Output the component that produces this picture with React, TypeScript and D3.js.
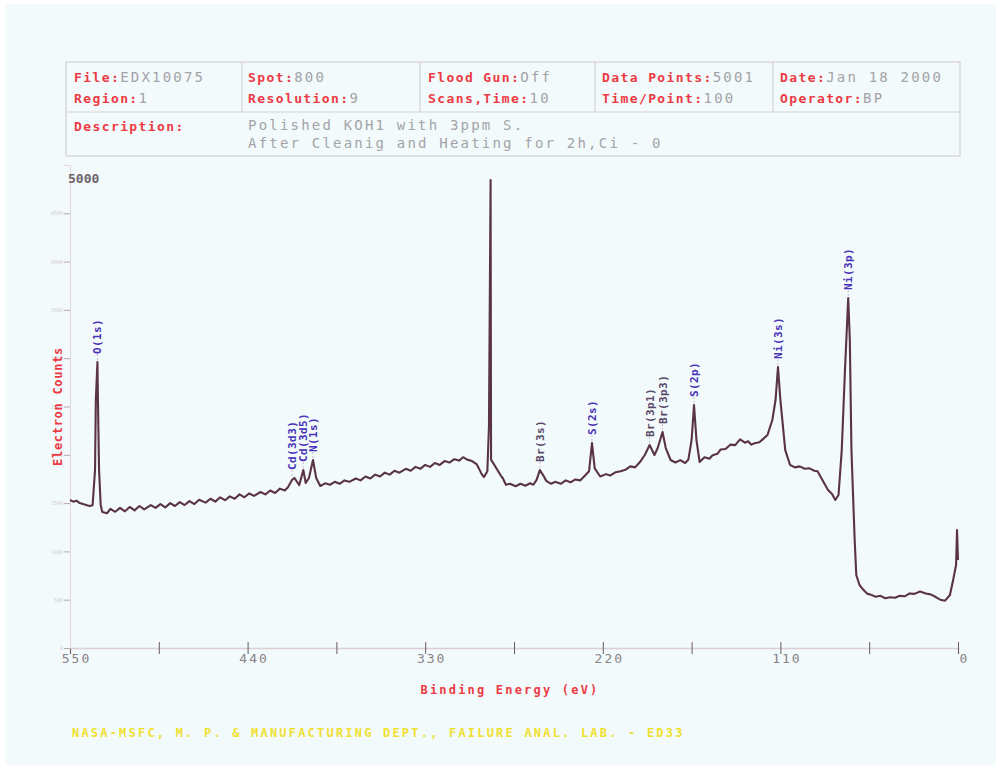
import React, { useEffect, useRef } from 'react';
import * as d3 from 'd3';

// spectrum readings: [binding energy (eV), electron counts]
const spectrum: [number, number][] = [
  [550, 1532], [548, 1515], [546, 1525], [544, 1500], [541, 1485], [538, 1470], [536, 1478],
  [534.5, 1842], [534, 2567], [533, 2960], [532.7, 2567], [532, 1842], [531, 1480],
  [530, 1408], [527, 1395], [525, 1440], [522, 1410], [519, 1450], [516, 1415],
  [513, 1460], [510, 1425], [507, 1470], [504, 1435], [500, 1480], [497, 1450],
  [494, 1490], [491, 1455], [488, 1500], [485, 1470], [482, 1510], [479, 1480],
  [476, 1520], [473, 1490], [470, 1535], [466, 1505], [463, 1545], [460, 1515],
  [457, 1560], [454, 1530], [451, 1570], [448, 1545], [445, 1590], [442, 1560],
  [439, 1600], [436, 1575], [432, 1615], [429, 1590], [426, 1630], [423, 1605],
  [420, 1650], [417, 1630], [415, 1665], [412.5, 1739], [411, 1760], [408, 1687],
  [407.5, 1718], [405.5, 1842], [404, 1708], [402, 1760], [399.5, 1946], [397.5, 1760],
  [395, 1677], [392, 1705], [389, 1690], [386, 1720], [383, 1700], [380, 1735],
  [377, 1720], [373, 1755], [370, 1735], [367, 1775], [364, 1755], [361, 1795],
  [358, 1775], [355, 1815], [352, 1795], [349, 1835], [346, 1815], [342, 1855],
  [339, 1835], [336, 1875], [333, 1855], [330, 1895], [327, 1875], [324, 1915],
  [321, 1895], [318, 1935], [315, 1920], [312, 1955], [309, 1940], [306.5, 1975],
  [304, 1950], [301, 1935], [298, 1900], [295, 1800], [293.6, 1770], [291.5, 1830],
  [290.5, 2300], [289.5, 4844], [289.2, 1950], [283, 1780], [282, 1760], [280, 1690], [277.5, 1700],
  [274, 1675], [271, 1700], [268, 1680], [265, 1705], [263, 1690], [261, 1740],
  [259, 1842], [257, 1790], [255, 1730], [252, 1700], [249.6, 1720], [246, 1700],
  [243, 1735], [240, 1715], [237, 1745], [234, 1735], [231, 1785], [228.5, 1830],
  [226.7, 2122], [225, 1860], [221.6, 1775], [218, 1800], [215.5, 1785], [212, 1820],
  [209, 1830], [206, 1845], [203, 1880], [200, 1870], [197, 1925], [194, 1998],
  [191, 2101], [188, 1998], [186, 2070], [183, 2236], [181, 2070], [178, 1946],
  [175, 1920], [172, 1945], [169, 1915], [167, 1950], [165, 2153], [163.5, 2515],
  [162, 2153], [160, 1925], [157, 1975], [154, 1960], [152, 1995], [149, 2010],
  [147, 2055], [144, 2060], [141, 2105], [138, 2100], [135, 2160], [132, 2125],
  [130, 2140], [128, 2105], [126, 2120], [123, 2130], [121, 2160], [118, 2205],
  [115, 2360], [113, 2567], [111.5, 2908], [110, 2567], [107, 2049], [104, 1894],
  [101, 1870], [98, 1880], [95, 1855], [92, 1860], [89, 1835], [87, 1830],
  [84, 1739], [80.5, 1635], [78, 1594], [76, 1532], [74, 1584], [72, 2049],
  [70, 2877], [68, 3623], [67, 3188], [66, 2049], [64, 1118], [63, 756],
  [61, 652], [59, 610], [57.6, 585], [56, 560], [54.5, 555], [51, 530],
  [48, 540], [45, 515], [42, 525], [39, 520], [36, 540], [33, 535],
  [30, 565], [27, 560], [23.5, 585], [20, 565], [17, 555], [14, 530],
  [11, 500], [8, 490], [5, 549], [3, 704], [1.2, 859], [0.6, 1221], [0, 911],
];

// peak labels: name, energy, counts at the peak top
const peakNames = ['O(1s)', 'Cd(3d3)', 'Cd(3d5)', 'N(1s)', 'Br(3s)', 'S(2s)', 'Br(3p1)', 'Br(3p3)', 'S(2p)', 'Ni(3s)', 'Ni(3p)'];
const peakEnergies = [533, 412.5, 405.5, 399.5, 259, 226.7, 191, 183, 163.5, 111.5, 68];
const peakCounts = [2960, 1760, 1842, 1946, 1842, 2122, 2101, 2236, 2515, 2908, 3623];
const peakColors = ['#4a32b8', '#4a32b8', '#4a32b8', '#4a32b8', '#5a4a6a', '#4a32b8', '#5a4a6a', '#5a4a6a', '#4a32b8', '#4a32b8', '#4a32b8'];

const xTicks = [550, 495, 440, 385, 330, 275, 220, 165, 110, 55, 0];
const yTicks = [0, 500, 1000, 1500, 2000, 2500, 3000, 3500, 4000, 4500];

const headerRow1 = [
  [['File:', 'EDX10075'], ['Region:', '1']],
  [['Spot:', '800'], ['Resolution:', '9']],
  [['Flood Gun:', 'Off'], ['Scans,Time:', '10']],
  [['Data Points:', '5001'], ['Time/Point:', '100']],
  [['Date:', 'Jan 18 2000'], ['Operator:', 'BP']],
];
const descLines = ['Polished KOH1 with 3ppm S.', 'After Cleanig and Heating for 2h,Ci - 0'];

const App = () => {
  const axRef = useRef<SVGGElement>(null);
  const W = 1000, H = 769;
  const x = d3.scaleLinear().domain([550, 0]).range([70, 958]);
  const y = d3.scaleLinear().domain([0, 5000]).range([648, 165]);
  const line = d3.line<[number, number]>().x(d => x(d[0])).y(d => y(d[1]));
  const mono = 'DejaVu Sans Mono, monospace';
  const red = '#ec3a44';
  const gray = '#a3a3a8';

  useEffect(() => {
    if (!axRef.current) return;
    const g = d3.select(axRef.current);
    g.selectAll('*').remove();

    const xa = g.append('g')
      .attr('transform', `translate(0,${y(0)})`)
      .call(d3.axisBottom(x).tickValues(xTicks).tickSize(6)
        .tickFormat(d => (+d % 110 === 0 ? String(d) : '')));
    xa.select('.domain').attr('stroke', '#dccfd4').attr('stroke-width', 1.5);
    xa.selectAll('.tick line').attr('stroke', '#6a5a60').attr('y1', -6);
    xa.selectAll('.tick text').attr('font-family', mono).attr('font-size', 13)
      .attr('letter-spacing', 2).attr('fill', '#8a8288').attr('dy', 6).attr('dx', 6);

    const ya = g.append('g')
      .attr('transform', `translate(${x(550)},0)`)
      .call(d3.axisLeft(y).tickValues(yTicks).tickSize(6).tickFormat(d => String(d)));
    ya.select('.domain').attr('stroke', '#e2d6da');
    ya.selectAll('.tick line').attr('stroke', '#b8a8ae');
    ya.selectAll('.tick text').attr('font-family', mono).attr('font-size', 5)
      .attr('fill', '#d4ccd0').attr('dx', 2);
  }, []);

  return (
    <svg width={W} height={H} style={{ position: 'absolute', left: 0, top: 0 }}>
      <rect x={0} y={0} width={W} height={H} fill="#ffffff" />
      <rect x={6} y={4} width={W - 10} height={H - 8} fill="#f2fafb" />

      {/* header box */}
      <g stroke="#d6d0d8" strokeWidth={1.2} fill="none">
        <rect x={66} y={62} width={894} height={94} />
        <line x1={66} x2={960} y1={112} y2={112} />
        {[242, 420, 595, 773].map(v => <line key={v} x1={v} x2={v} y1={62} y2={112} />)}
      </g>
      {headerRow1.map((col, i) => {
        const cx = [74, 248, 428, 602, 780][i];
        return col.map((pair, j) => (
          <text key={`${i}-${j}`} x={cx} y={82 + j * 21} fontFamily={mono}>
            <tspan fill={red} fontSize={13} fontWeight="bold" letterSpacing={1.4}>{pair[0]}</tspan>
            <tspan fill={gray} fontSize={14} letterSpacing={2.2}>{pair[1]}</tspan>
          </text>
        ));
      })}
      <text x={74} y={131} fontFamily={mono} fontSize={13} fontWeight="bold" letterSpacing={1.4} fill={red}>Description:</text>
      {descLines.map((t, i) => (
        <text key={i} x={248} y={130 + i * 18} fontFamily={mono} fontSize={14} letterSpacing={2.2} fill={gray}>{t}</text>
      ))}

      {/* axes */}
      <g ref={axRef} />
      <text x={68} y={183} fontFamily={mono} fontSize={13} fontWeight="bold" fill="#6e6468">5000</text>
      <text transform={`translate(62,${y(2500)}) rotate(-90)`} textAnchor="middle" fontFamily={mono}
        fontSize={12} fontWeight="bold" letterSpacing={0.7} fill={red}>Electron Counts</text>
      <text x={510} y={694} textAnchor="middle" fontFamily={mono} fontSize={12} fontWeight="bold"
        letterSpacing={2.2} fill={red}>Binding Energy (eV)</text>

      {/* spectrum */}
      <path d={line(spectrum) || ''} fill="none" stroke="#5a3442" strokeWidth={2.1} strokeLinejoin="round" />

      {/* peak labels */}
      {peakNames.map((n, i) => {
        const px = x(peakEnergies[i]);
        const py = y(peakCounts[i]) - 8;
        return (
          <g key={n}>
            <line x1={px} x2={px} y1={py} y2={py + 6} stroke="#c8b8d0" strokeDasharray="2,2" />
            <text transform={`translate(${px + 4},${py}) rotate(-90)`} fontFamily={mono} fontSize={11}
              letterSpacing={0.4} fontWeight="bold" fill={peakColors[i]}>{n}</text>
          </g>
        );
      })}

      <text x={72} y={737} fontFamily={mono} fontSize={12} fontWeight="bold" letterSpacing={2.2} fill="#f0e030">
        NASA-MSFC, M. P. &amp; MANUFACTURING DEPT., FAILURE ANAL. LAB. - ED33
      </text>
    </svg>
  );
};

export default App;
